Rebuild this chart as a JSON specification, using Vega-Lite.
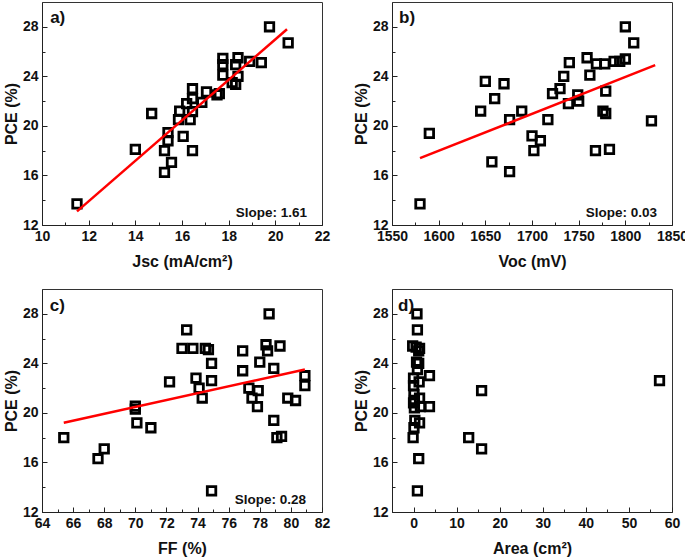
{
  "$schema": "https://vega.github.io/schema/vega-lite/v6.json",
  "background": "white",
  "padding": {"left": 2, "top": 1, "right": 5, "bottom": 0},
  "columns": 2,
  "spacing": {"row": 18, "column": 21},
  "datasets": {
    "a": [
      {"x": 11.5, "y": 13.7}, {"x": 14.0, "y": 18.1}, {"x": 14.7, "y": 21.0}, {"x": 15.25, "y": 18.0},
      {"x": 15.25, "y": 16.25}, {"x": 15.55, "y": 17.05}, {"x": 15.4, "y": 18.8}, {"x": 15.4, "y": 19.45},
      {"x": 16.05, "y": 19.15}, {"x": 15.85, "y": 20.5}, {"x": 16.35, "y": 20.5}, {"x": 15.9, "y": 21.2},
      {"x": 16.45, "y": 21.15}, {"x": 16.2, "y": 21.8}, {"x": 16.45, "y": 22.2}, {"x": 16.85, "y": 21.9},
      {"x": 16.45, "y": 23.0}, {"x": 17.05, "y": 22.75}, {"x": 17.5, "y": 22.5}, {"x": 17.6, "y": 22.6},
      {"x": 16.45, "y": 18.0}, {"x": 17.75, "y": 25.45}, {"x": 17.75, "y": 24.95}, {"x": 17.75, "y": 24.1},
      {"x": 18.15, "y": 23.5}, {"x": 18.3, "y": 23.35}, {"x": 18.3, "y": 24.95}, {"x": 18.4, "y": 25.5},
      {"x": 18.4, "y": 24.0}, {"x": 18.9, "y": 25.2}, {"x": 19.4, "y": 25.1}, {"x": 19.75, "y": 28.0},
      {"x": 20.55, "y": 26.7}
    ],
    "aFit": [{"x": 11.5, "y": 13.1}, {"x": 20.5, "y": 27.8}],
    "b": [
      {"x": 1580, "y": 13.7}, {"x": 1590, "y": 19.4}, {"x": 1645, "y": 21.2}, {"x": 1650, "y": 23.6},
      {"x": 1660, "y": 22.2}, {"x": 1657, "y": 17.1}, {"x": 1670, "y": 23.4}, {"x": 1676, "y": 20.5},
      {"x": 1676, "y": 16.3}, {"x": 1689, "y": 21.2}, {"x": 1700, "y": 19.2}, {"x": 1702, "y": 18.0},
      {"x": 1709, "y": 18.8}, {"x": 1717, "y": 20.5}, {"x": 1722, "y": 22.6}, {"x": 1730, "y": 23.0},
      {"x": 1734, "y": 24.0}, {"x": 1740, "y": 25.1}, {"x": 1739, "y": 21.8}, {"x": 1749, "y": 22.5},
      {"x": 1750, "y": 22.0}, {"x": 1759, "y": 25.5}, {"x": 1762, "y": 24.1}, {"x": 1768, "y": 18.0},
      {"x": 1769, "y": 25.0}, {"x": 1778, "y": 25.0}, {"x": 1779, "y": 22.8}, {"x": 1776, "y": 21.2},
      {"x": 1779, "y": 21.0}, {"x": 1783, "y": 18.1}, {"x": 1788, "y": 25.2}, {"x": 1794, "y": 25.2},
      {"x": 1800, "y": 25.4}, {"x": 1800, "y": 28.0}, {"x": 1809, "y": 26.7}, {"x": 1828, "y": 20.4}
    ],
    "bFit": [{"x": 1580, "y": 17.4}, {"x": 1832, "y": 24.9}],
    "c": [
      {"x": 65.4, "y": 18.0}, {"x": 67.6, "y": 16.3}, {"x": 68.0, "y": 17.1}, {"x": 70.0, "y": 20.55},
      {"x": 70.0, "y": 20.3}, {"x": 70.1, "y": 19.2}, {"x": 71.0, "y": 18.8}, {"x": 72.2, "y": 22.5},
      {"x": 73.3, "y": 26.7}, {"x": 73.0, "y": 25.2}, {"x": 73.7, "y": 25.2}, {"x": 74.5, "y": 25.2},
      {"x": 74.7, "y": 25.1}, {"x": 74.9, "y": 24.0}, {"x": 73.9, "y": 22.8}, {"x": 74.9, "y": 22.6},
      {"x": 74.1, "y": 22.0}, {"x": 74.3, "y": 21.2}, {"x": 74.9, "y": 13.7}, {"x": 76.9, "y": 25.0},
      {"x": 76.9, "y": 23.4}, {"x": 77.3, "y": 22.0}, {"x": 77.5, "y": 21.2}, {"x": 77.9, "y": 21.8},
      {"x": 77.85, "y": 20.5}, {"x": 78.0, "y": 24.1}, {"x": 78.4, "y": 25.5}, {"x": 78.5, "y": 25.0},
      {"x": 78.6, "y": 28.0}, {"x": 78.9, "y": 23.6}, {"x": 79.3, "y": 25.4}, {"x": 78.9, "y": 19.4},
      {"x": 79.1, "y": 18.0}, {"x": 79.4, "y": 18.1}, {"x": 79.8, "y": 21.2}, {"x": 80.3, "y": 21.0},
      {"x": 80.9, "y": 23.0}, {"x": 80.9, "y": 22.2}
    ],
    "cFit": [{"x": 65.4, "y": 19.2}, {"x": 80.9, "y": 23.5}],
    "d": [
      {"x": 57.1, "y": 22.6}, {"x": 15.8, "y": 21.8}, {"x": 15.8, "y": 17.1}, {"x": 12.8, "y": 18.0},
      {"x": 3.7, "y": 23.0}, {"x": 3.7, "y": 20.5}, {"x": 1.2, "y": 16.3}, {"x": 0.9, "y": 13.7},
      {"x": 0.8, "y": 28.0}, {"x": 0.9, "y": 26.7}, {"x": -0.2, "y": 25.4}, {"x": 0.6, "y": 25.3},
      {"x": 1.4, "y": 25.2}, {"x": 1.2, "y": 25.0}, {"x": 0.7, "y": 24.1}, {"x": 1.2, "y": 24.0},
      {"x": 0.9, "y": 23.5}, {"x": 0.0, "y": 22.8}, {"x": 1.3, "y": 22.5}, {"x": 0.0, "y": 22.2},
      {"x": 0.1, "y": 21.5}, {"x": 1.4, "y": 21.2}, {"x": 0.2, "y": 21.0}, {"x": 1.6, "y": 20.5},
      {"x": 0.2, "y": 20.4}, {"x": 0.3, "y": 19.4}, {"x": 1.4, "y": 19.2}, {"x": 0.1, "y": 18.8},
      {"x": -0.1, "y": 18.0}, {"x": 0.0, "y": 20.8}
    ]
  },
  "config": {
    "view": {"stroke": "#333", "strokeWidth": 1},
    "font": "Liberation Sans",
    "axis": {
      "grid": false, "domainColor": "#222", "tickColor": "#222", "tickSize": -5, "labelPadding": 9,
      "labelFont": "Liberation Sans", "labelFontWeight": "bold", "labelFontSize": 14, "labelColor": "#111",
      "labelFlush": false, "labelOverlap": false,
      "titleFont": "Liberation Sans", "titleFontWeight": "bold", "titleFontSize": 16, "titleColor": "#111"
    },
    "axisX": {"titlePadding": 10},
    "axisY": {"titlePadding": 3},
    "point": {"shape": "square", "filled": false, "stroke": "black", "strokeWidth": 2.8, "size": 72, "opacity": 1},
    "text": {"font": "Liberation Sans", "fontWeight": "bold", "color": "#111"}
  },
  "concat": [
    {
      "width": 280, "height": 223,
      "resolve": {"axis": {"x": "independent", "y": "independent"}},
      "layer": [
        {
          "data": {"name": "a"}, "mark": {"type": "point"},
          "encoding": {
            "x": {"field": "x", "type": "quantitative", "scale": {"domain": [10, 22], "nice": false, "zero": false}, "axis": {"orient": "bottom", "values": [10, 12, 14, 16, 18, 20, 22], "title": "Jsc (mA/cm²)"}},
            "y": {"field": "y", "type": "quantitative", "scale": {"domain": [12, 30], "nice": false, "zero": false}, "axis": {"orient": "left", "values": [12, 16, 20, 24, 28], "title": "PCE (%)"}}
          }
        },
        {
          "data": {"name": "aFit"}, "mark": {"type": "line", "color": "#ff0000", "strokeWidth": 2.5},
          "encoding": {
            "x": {"field": "x", "type": "quantitative", "axis": {"orient": "bottom", "values": [11, 13, 15, 17, 19, 21], "labels": false, "domain": false, "title": null, "tickSize": -3}},
            "y": {"field": "y", "type": "quantitative", "axis": {"orient": "left", "values": [14, 18, 22, 26], "labels": false, "domain": false, "title": null, "tickSize": -3}}
          }
        },
        {
          "data": {"values": [{}]}, "mark": {"type": "text", "fontSize": 17, "align": "left", "baseline": "middle"},
          "encoding": {"x": {"datum": 10.35, "type": "quantitative", "axis": null}, "y": {"datum": 28.7, "type": "quantitative", "axis": null}, "text": {"value": "a)"}}
        },
        {
          "data": {"values": [{}]}, "mark": {"type": "text", "fontSize": 13.5, "align": "right", "baseline": "middle"},
          "encoding": {"x": {"datum": 21.36, "type": "quantitative", "axis": null}, "y": {"datum": 12.97, "type": "quantitative", "axis": null}, "text": {"value": "Slope: 1.61"}}
        }
      ]
    },
    {
      "width": 280, "height": 223,
      "resolve": {"axis": {"x": "independent", "y": "independent"}},
      "layer": [
        {
          "data": {"name": "b"}, "mark": {"type": "point"},
          "encoding": {
            "x": {"field": "x", "type": "quantitative", "scale": {"domain": [1550, 1850], "nice": false, "zero": false}, "axis": {"orient": "bottom", "values": [1550, 1600, 1650, 1700, 1750, 1800, 1850], "format": "d", "title": "Voc (mV)"}},
            "y": {"field": "y", "type": "quantitative", "scale": {"domain": [12, 30], "nice": false, "zero": false}, "axis": {"orient": "left", "values": [12, 16, 20, 24, 28], "title": "PCE (%)"}}
          }
        },
        {
          "data": {"name": "bFit"}, "mark": {"type": "line", "color": "#ff0000", "strokeWidth": 2.5},
          "encoding": {
            "x": {"field": "x", "type": "quantitative", "axis": {"orient": "bottom", "values": [1575, 1625, 1675, 1725, 1775, 1825], "labels": false, "domain": false, "title": null, "tickSize": -3}},
            "y": {"field": "y", "type": "quantitative", "axis": {"orient": "left", "values": [14, 18, 22, 26], "labels": false, "domain": false, "title": null, "tickSize": -3}}
          }
        },
        {
          "data": {"values": [{}]}, "mark": {"type": "text", "fontSize": 17, "align": "left", "baseline": "middle"},
          "encoding": {"x": {"datum": 1557.5, "type": "quantitative", "axis": null}, "y": {"datum": 28.7, "type": "quantitative", "axis": null}, "text": {"value": "b)"}}
        },
        {
          "data": {"values": [{}]}, "mark": {"type": "text", "fontSize": 13.5, "align": "right", "baseline": "middle"},
          "encoding": {"x": {"datum": 1834, "type": "quantitative", "axis": null}, "y": {"datum": 12.97, "type": "quantitative", "axis": null}, "text": {"value": "Slope: 0.03"}}
        }
      ]
    },
    {
      "width": 280, "height": 223,
      "resolve": {"axis": {"x": "independent", "y": "independent"}},
      "layer": [
        {
          "data": {"name": "c"}, "mark": {"type": "point"},
          "encoding": {
            "x": {"field": "x", "type": "quantitative", "scale": {"domain": [64, 82], "nice": false, "zero": false}, "axis": {"orient": "bottom", "values": [64, 66, 68, 70, 72, 74, 76, 78, 80, 82], "title": "FF (%)"}},
            "y": {"field": "y", "type": "quantitative", "scale": {"domain": [12, 30], "nice": false, "zero": false}, "axis": {"orient": "left", "values": [12, 16, 20, 24, 28], "title": "PCE (%)"}}
          }
        },
        {
          "data": {"name": "cFit"}, "mark": {"type": "line", "color": "#ff0000", "strokeWidth": 2.5},
          "encoding": {
            "x": {"field": "x", "type": "quantitative", "axis": {"orient": "bottom", "values": [65, 67, 69, 71, 73, 75, 77, 79, 81], "labels": false, "domain": false, "title": null, "tickSize": -3}},
            "y": {"field": "y", "type": "quantitative", "axis": {"orient": "left", "values": [14, 18, 22, 26], "labels": false, "domain": false, "title": null, "tickSize": -3}}
          }
        },
        {
          "data": {"values": [{}]}, "mark": {"type": "text", "fontSize": 17, "align": "left", "baseline": "middle"},
          "encoding": {"x": {"datum": 64.5, "type": "quantitative", "axis": null}, "y": {"datum": 28.62, "type": "quantitative", "axis": null}, "text": {"value": "c)"}}
        },
        {
          "data": {"values": [{}]}, "mark": {"type": "text", "fontSize": 13.5, "align": "right", "baseline": "middle"},
          "encoding": {"x": {"datum": 80.97, "type": "quantitative", "axis": null}, "y": {"datum": 13.0, "type": "quantitative", "axis": null}, "text": {"value": "Slope: 0.28"}}
        }
      ]
    },
    {
      "width": 280, "height": 223,
      "resolve": {"axis": {"x": "independent", "y": "independent"}},
      "layer": [
        {
          "data": {"name": "d"}, "mark": {"type": "point"},
          "encoding": {
            "x": {"field": "x", "type": "quantitative", "scale": {"domain": [-5, 60], "nice": false, "zero": false}, "axis": {"orient": "bottom", "values": [0, 10, 20, 30, 40, 50, 60], "title": "Area (cm²)"}},
            "y": {"field": "y", "type": "quantitative", "scale": {"domain": [12, 30], "nice": false, "zero": false}, "axis": {"orient": "left", "values": [12, 16, 20, 24, 28], "title": "PCE (%)"}}
          }
        },
        {
          "data": {"values": [{}]}, "mark": {"type": "text", "fontSize": 17, "align": "left", "baseline": "middle"},
          "encoding": {
            "x": {"datum": -3.6, "type": "quantitative", "axis": {"orient": "bottom", "values": [5, 15, 25, 35, 45, 55], "labels": false, "domain": false, "title": null, "tickSize": -3}},
            "y": {"datum": 28.62, "type": "quantitative", "axis": {"orient": "left", "values": [14, 18, 22, 26], "labels": false, "domain": false, "title": null, "tickSize": -3}},
            "text": {"value": "d)"}
          }
        }
      ]
    }
  ]
}
